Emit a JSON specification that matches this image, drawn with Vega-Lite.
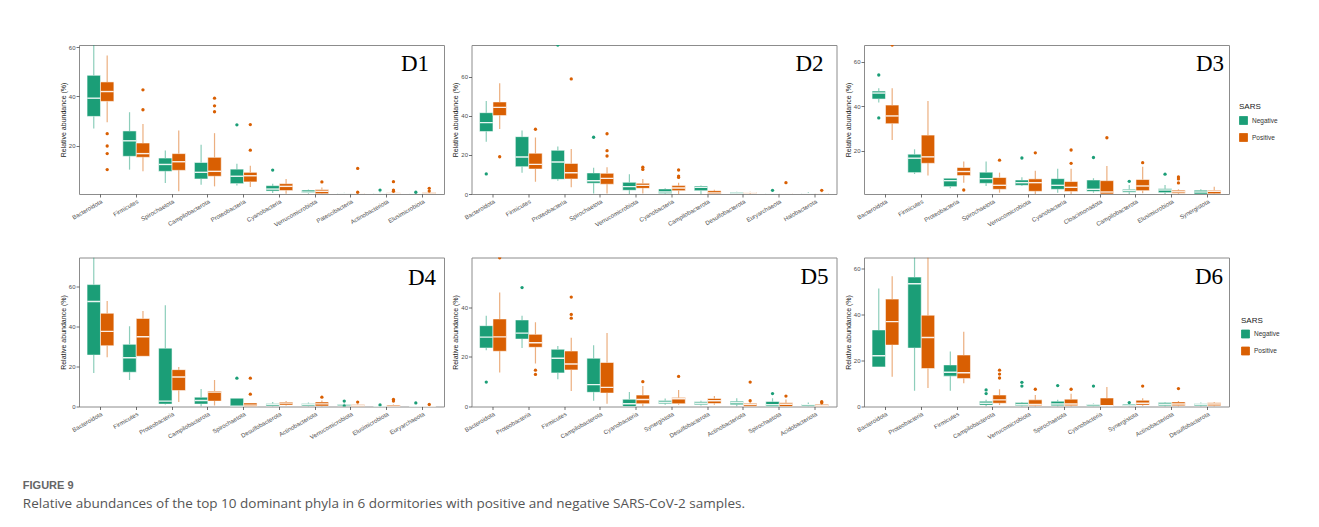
{
  "$schema": "https://vega.github.io/schema/vega-lite/v6.json",
  "background": "white",
  "padding": {"left": 22, "top": 43, "right": 10, "bottom": 10},
  "title": {
    "text": "FIGURE 9",
    "subtitle": "Relative abundances of the top 10 dominant phyla in 6 dormitories with positive and negative SARS-CoV-2 samples.",
    "orient": "bottom", "anchor": "start", "frame": "bounds", "offset": 40, "dx": -36, "baseline": "top",
    "font": "Liberation Sans Narrow, Liberation Sans", "fontSize": 11, "fontWeight": "bold", "color": "#666666",
    "subtitleFont": "Open Sans", "subtitleFontSize": 13.5, "subtitleColor": "#555555", "subtitlePadding": 6
  },
  "datasets": {
    "boxes": [
      {"panel":"D1","phylum":"Bacteroidota","SARS":"Negative","lower":27,"q1":31.9,"median":39.3,"q3":48.6,"upper":60.9},
      {"panel":"D1","phylum":"Bacteroidota","SARS":"Positive","lower":29.5,"q1":38,"median":42,"q3":45.9,"upper":56.6},
      {"panel":"D1","phylum":"Firmicutes","SARS":"Negative","lower":10.3,"q1":15.7,"median":22,"q3":26,"upper":33.6},
      {"panel":"D1","phylum":"Firmicutes","SARS":"Positive","lower":9.6,"q1":15.3,"median":16.8,"q3":21.1,"upper":28.8},
      {"panel":"D1","phylum":"Spirochaetota","SARS":"Negative","lower":4.9,"q1":9.6,"median":12.4,"q3":15,"upper":18.1},
      {"panel":"D1","phylum":"Spirochaetota","SARS":"Positive","lower":1.5,"q1":10,"median":13.5,"q3":16.8,"upper":26.2},
      {"panel":"D1","phylum":"Campilobacterota","SARS":"Negative","lower":4.2,"q1":6.5,"median":9.2,"q3":13.2,"upper":20.4},
      {"panel":"D1","phylum":"Campilobacterota","SARS":"Positive","lower":3.5,"q1":7.6,"median":9.6,"q3":15.3,"upper":25.1},
      {"panel":"D1","phylum":"Proteobacteria","SARS":"Negative","lower":3.9,"q1":4.6,"median":7.6,"q3":10.5,"upper":12.7},
      {"panel":"D1","phylum":"Proteobacteria","SARS":"Positive","lower":3.2,"q1":5.3,"median":7.8,"q3":9.2,"upper":11.9},
      {"panel":"D1","phylum":"Cyanobacteria","SARS":"Negative","lower":0.8,"q1":1.6,"median":2.4,"q3":3.8,"upper":4.6},
      {"panel":"D1","phylum":"Cyanobacteria","SARS":"Positive","lower":0.5,"q1":1.8,"median":3.5,"q3":4.6,"upper":6.5},
      {"panel":"D1","phylum":"Verrucomicrobiota","SARS":"Negative","lower":0.5,"q1":0.8,"median":1.2,"q3":2,"upper":2.2},
      {"panel":"D1","phylum":"Verrucomicrobiota","SARS":"Positive","lower":0.4,"q1":0.5,"median":1.5,"q3":2.2,"upper":3},
      {"panel":"D1","phylum":"Patescibacteria","SARS":"Negative","lower":0.4,"q1":0.5,"median":0.6,"q3":0.8,"upper":0.9},
      {"panel":"D1","phylum":"Patescibacteria","SARS":"Positive","lower":0.4,"q1":0.5,"median":0.6,"q3":0.8,"upper":1},
      {"panel":"D1","phylum":"Actinobacteriota","SARS":"Negative","lower":0.4,"q1":0.5,"median":0.6,"q3":0.8,"upper":1},
      {"panel":"D1","phylum":"Actinobacteriota","SARS":"Positive","lower":0.4,"q1":0.5,"median":0.7,"q3":0.9,"upper":1.1},
      {"panel":"D1","phylum":"Elusimicrobiota","SARS":"Negative","lower":0.4,"q1":0.45,"median":0.5,"q3":0.6,"upper":0.7},
      {"panel":"D1","phylum":"Elusimicrobiota","SARS":"Positive","lower":0.4,"q1":0.5,"median":0.8,"q3":1.1,"upper":1.4},

      {"panel":"D2","phylum":"Bacteroidota","SARS":"Negative","lower":26.8,"q1":32,"median":36.6,"q3":41.7,"upper":47.7},
      {"panel":"D2","phylum":"Bacteroidota","SARS":"Positive","lower":33.3,"q1":40.2,"median":44.4,"q3":47.2,"upper":56.8},
      {"panel":"D2","phylum":"Firmicutes","SARS":"Negative","lower":10.9,"q1":14,"median":19,"q3":29.4,"upper":32.5},
      {"panel":"D2","phylum":"Firmicutes","SARS":"Positive","lower":6.3,"q1":12.8,"median":15.2,"q3":20.9,"upper":29},
      {"panel":"D2","phylum":"Proteobacteria","SARS":"Negative","lower":6.8,"q1":7.5,"median":16.4,"q3":22.4,"upper":24.3},
      {"panel":"D2","phylum":"Proteobacteria","SARS":"Positive","lower":3.4,"q1":7.7,"median":10.9,"q3":15.7,"upper":23.1},
      {"panel":"D2","phylum":"Spirochaetota","SARS":"Negative","lower":0.3,"q1":5.5,"median":6.8,"q3":10.8,"upper":13.5},
      {"panel":"D2","phylum":"Spirochaetota","SARS":"Positive","lower":0.3,"q1":5,"median":8,"q3":10.6,"upper":13.7},
      {"panel":"D2","phylum":"Verrucomicrobiota","SARS":"Negative","lower":0,"q1":1.9,"median":3.8,"q3":6,"upper":10.1},
      {"panel":"D2","phylum":"Verrucomicrobiota","SARS":"Positive","lower":0.3,"q1":2.9,"median":4.4,"q3":5.5,"upper":7.7},
      {"panel":"D2","phylum":"Cyanobacteria","SARS":"Negative","lower":0,"q1":0.2,"median":1,"q3":2.6,"upper":2.9},
      {"panel":"D2","phylum":"Cyanobacteria","SARS":"Positive","lower":0,"q1":1.7,"median":3.1,"q3":4.3,"upper":5.8},
      {"panel":"D2","phylum":"Campilobacterota","SARS":"Negative","lower":0,"q1":1.7,"median":3.4,"q3":4.1,"upper":4.4},
      {"panel":"D2","phylum":"Campilobacterota","SARS":"Positive","lower":0,"q1":0.05,"median":0.6,"q3":1.7,"upper":2.2},
      {"panel":"D2","phylum":"Desulfobacterota","SARS":"Negative","lower":0,"q1":0.1,"median":0.5,"q3":1,"upper":1.1},
      {"panel":"D2","phylum":"Desulfobacterota","SARS":"Positive","lower":0,"q1":0.4,"median":0.7,"q3":1,"upper":1.2},
      {"panel":"D2","phylum":"Euryarchaeota","SARS":"Negative","lower":0,"q1":0.05,"median":0.1,"q3":0.2,"upper":0.3},
      {"panel":"D2","phylum":"Euryarchaeota","SARS":"Positive","lower":0,"q1":0.05,"median":0.1,"q3":0.3,"upper":0.4},
      {"panel":"D2","phylum":"Halobacterota","SARS":"Negative","lower":0,"q1":0.1,"median":0.2,"q3":0.4,"upper":0.9},
      {"panel":"D2","phylum":"Halobacterota","SARS":"Positive","lower":0,"q1":0.05,"median":0.2,"q3":0.4,"upper":0.6},

      {"panel":"D3","phylum":"Bacteroidota","SARS":"Negative","lower":41.6,"q1":43.2,"median":45.9,"q3":46.8,"upper":48},
      {"panel":"D3","phylum":"Bacteroidota","SARS":"Positive","lower":24.8,"q1":32.1,"median":35.6,"q3":40.5,"upper":48},
      {"panel":"D3","phylum":"Firmicutes","SARS":"Negative","lower":9.5,"q1":10.1,"median":16.6,"q3":18.4,"upper":20.6},
      {"panel":"D3","phylum":"Firmicutes","SARS":"Positive","lower":8.8,"q1":14.3,"median":17.2,"q3":27,"upper":42.3},
      {"panel":"D3","phylum":"Proteobacteria","SARS":"Negative","lower":3.1,"q1":3.8,"median":6.5,"q3":7.6,"upper":7.6},
      {"panel":"D3","phylum":"Proteobacteria","SARS":"Positive","lower":5.6,"q1":8.8,"median":10.6,"q3":12.4,"upper":15.1},
      {"panel":"D3","phylum":"Spirochaetota","SARS":"Negative","lower":4.1,"q1":5.3,"median":7.4,"q3":10.3,"upper":15.1},
      {"panel":"D3","phylum":"Spirochaetota","SARS":"Positive","lower":1.1,"q1":2.6,"median":4.4,"q3":7.9,"upper":10.1},
      {"panel":"D3","phylum":"Verrucomicrobiota","SARS":"Negative","lower":4.1,"q1":4.4,"median":5.6,"q3":6.8,"upper":8},
      {"panel":"D3","phylum":"Verrucomicrobiota","SARS":"Positive","lower":0.4,"q1":1.7,"median":5.6,"q3":7.3,"upper":11},
      {"panel":"D3","phylum":"Cyanobacteria","SARS":"Negative","lower":1.1,"q1":2.6,"median":4.4,"q3":7.4,"upper":11.8},
      {"panel":"D3","phylum":"Cyanobacteria","SARS":"Positive","lower":0.4,"q1":1.6,"median":3.5,"q3":6.1,"upper":11.9},
      {"panel":"D3","phylum":"Cloacimonadota","SARS":"Negative","lower":1.1,"q1":1.7,"median":2.6,"q3":6.8,"upper":7.6},
      {"panel":"D3","phylum":"Cloacimonadota","SARS":"Positive","lower":0.4,"q1":0.5,"median":1.4,"q3":6.5,"upper":13.1},
      {"panel":"D3","phylum":"Campilobacterota","SARS":"Negative","lower":0.5,"q1":1.3,"median":2,"q3":2.6,"upper":4.6},
      {"panel":"D3","phylum":"Campilobacterota","SARS":"Positive","lower":0.8,"q1":2,"median":4.1,"q3":7,"upper":12.8},
      {"panel":"D3","phylum":"Elusimicrobiota","SARS":"Negative","lower":0.5,"q1":1.1,"median":2.3,"q3":2.9,"upper":4.6},
      {"panel":"D3","phylum":"Elusimicrobiota","SARS":"Positive","lower":0.4,"q1":0.8,"median":1.5,"q3":2.2,"upper":2.6},
      {"panel":"D3","phylum":"Synergistota","SARS":"Negative","lower":0.4,"q1":0.5,"median":1.4,"q3":2.2,"upper":2.6},
      {"panel":"D3","phylum":"Synergistota","SARS":"Positive","lower":0.4,"q1":0.6,"median":1.7,"q3":2.2,"upper":3.8},

      {"panel":"D4","phylum":"Bacteroidota","SARS":"Negative","lower":16.8,"q1":25.8,"median":52.7,"q3":61.2,"upper":74.8},
      {"panel":"D4","phylum":"Bacteroidota","SARS":"Positive","lower":24.7,"q1":30.5,"median":37.7,"q3":46.8,"upper":53},
      {"panel":"D4","phylum":"Firmicutes","SARS":"Negative","lower":13.3,"q1":17.2,"median":24.5,"q3":31.2,"upper":40.3},
      {"panel":"D4","phylum":"Firmicutes","SARS":"Positive","lower":25.2,"q1":25.2,"median":35,"q3":44.2,"upper":48},
      {"panel":"D4","phylum":"Proteobacteria","SARS":"Negative","lower":1,"q1":1.2,"median":2.7,"q3":29.3,"upper":50.8},
      {"panel":"D4","phylum":"Proteobacteria","SARS":"Positive","lower":2.2,"q1":8,"median":14.8,"q3":18.5,"upper":19.8},
      {"panel":"D4","phylum":"Campilobacterota","SARS":"Negative","lower":0,"q1":1.2,"median":3,"q3":4.7,"upper":8.8},
      {"panel":"D4","phylum":"Campilobacterota","SARS":"Positive","lower":0.5,"q1":2.7,"median":7.2,"q3":7.8,"upper":13.3},
      {"panel":"D4","phylum":"Spirochaetota","SARS":"Negative","lower":0,"q1":0,"median":0.2,"q3":4.2,"upper":4.2},
      {"panel":"D4","phylum":"Spirochaetota","SARS":"Positive","lower":0,"q1":0,"median":0.7,"q3":1.8,"upper":1.8},
      {"panel":"D4","phylum":"Desulfobacterota","SARS":"Negative","lower":0,"q1":0.2,"median":1,"q3":1.5,"upper":2.2},
      {"panel":"D4","phylum":"Desulfobacterota","SARS":"Positive","lower":0.5,"q1":0.7,"median":1.7,"q3":2.3,"upper":2.8},
      {"panel":"D4","phylum":"Actinobacteriota","SARS":"Negative","lower":0,"q1":0.3,"median":1,"q3":1.5,"upper":2},
      {"panel":"D4","phylum":"Actinobacteriota","SARS":"Positive","lower":0,"q1":0.2,"median":1.3,"q3":2.3,"upper":3},
      {"panel":"D4","phylum":"Verrucomicrobiota","SARS":"Negative","lower":0,"q1":0.3,"median":0.8,"q3":1.2,"upper":1.5},
      {"panel":"D4","phylum":"Verrucomicrobiota","SARS":"Positive","lower":0,"q1":0,"median":0.5,"q3":1,"upper":1.3},
      {"panel":"D4","phylum":"Elusimicrobiota","SARS":"Negative","lower":0,"q1":0.05,"median":0.1,"q3":0.2,"upper":0.3},
      {"panel":"D4","phylum":"Elusimicrobiota","SARS":"Positive","lower":0,"q1":0,"median":0.2,"q3":0.8,"upper":1},
      {"panel":"D4","phylum":"Euryarchaeota","SARS":"Negative","lower":0,"q1":0.02,"median":0.05,"q3":0.1,"upper":0.2},
      {"panel":"D4","phylum":"Euryarchaeota","SARS":"Positive","lower":0,"q1":0.02,"median":0.05,"q3":0.15,"upper":0.3},

      {"panel":"D5","phylum":"Bacteroidota","SARS":"Negative","lower":22.6,"q1":23.5,"median":27.9,"q3":32.5,"upper":36.5},
      {"panel":"D5","phylum":"Bacteroidota","SARS":"Positive","lower":13.7,"q1":22.2,"median":28,"q3":35.2,"upper":45.8},
      {"panel":"D5","phylum":"Proteobacteria","SARS":"Negative","lower":23.5,"q1":27.1,"median":29.5,"q3":34.8,"upper":36.5},
      {"panel":"D5","phylum":"Proteobacteria","SARS":"Positive","lower":17.3,"q1":23.8,"median":25.6,"q3":29,"upper":33.9},
      {"panel":"D5","phylum":"Firmicutes","SARS":"Negative","lower":11,"q1":13.5,"median":19.4,"q3":23,"upper":24.3},
      {"panel":"D5","phylum":"Firmicutes","SARS":"Positive","lower":6.2,"q1":14.7,"median":17.1,"q3":22.3,"upper":27.6},
      {"panel":"D5","phylum":"Campilobacterota","SARS":"Negative","lower":2.3,"q1":5.7,"median":8.8,"q3":19.4,"upper":24.6},
      {"panel":"D5","phylum":"Campilobacterota","SARS":"Positive","lower":1.1,"q1":5.4,"median":7.7,"q3":17.7,"upper":29.5},
      {"panel":"D5","phylum":"Cyanobacteria","SARS":"Negative","lower":0,"q1":0,"median":1.1,"q3":2.9,"upper":5.8},
      {"panel":"D5","phylum":"Cyanobacteria","SARS":"Positive","lower":0,"q1":1.1,"median":2.8,"q3":4.6,"upper":8.2},
      {"panel":"D5","phylum":"Synergistota","SARS":"Negative","lower":0.7,"q1":1.1,"median":1.7,"q3":2.4,"upper":3.2},
      {"panel":"D5","phylum":"Synergistota","SARS":"Positive","lower":0.7,"q1":1.1,"median":3.1,"q3":3.6,"upper":6.6},
      {"panel":"D5","phylum":"Desulfobacterota","SARS":"Negative","lower":0.4,"q1":0.7,"median":1.3,"q3":1.9,"upper":2.3},
      {"panel":"D5","phylum":"Desulfobacterota","SARS":"Positive","lower":0.7,"q1":1.2,"median":2.3,"q3":3.2,"upper":4.2},
      {"panel":"D5","phylum":"Actinobacteriota","SARS":"Negative","lower":0,"q1":0.7,"median":1.5,"q3":2.1,"upper":3.3},
      {"panel":"D5","phylum":"Actinobacteriota","SARS":"Positive","lower":0,"q1":0,"median":0.8,"q3":1.3,"upper":1.6},
      {"panel":"D5","phylum":"Spirochaetota","SARS":"Negative","lower":0,"q1":0,"median":0.7,"q3":2,"upper":3.3},
      {"panel":"D5","phylum":"Spirochaetota","SARS":"Positive","lower":0,"q1":0,"median":0.9,"q3":1.5,"upper":2.8},
      {"panel":"D5","phylum":"Acidobacteriota","SARS":"Negative","lower":0,"q1":0.1,"median":0.7,"q3":0.9,"upper":1.6},
      {"panel":"D5","phylum":"Acidobacteriota","SARS":"Positive","lower":0,"q1":0,"median":0.4,"q3":0.9,"upper":1.2},

      {"panel":"D6","phylum":"Bacteroidota","SARS":"Negative","lower":17.2,"q1":17.2,"median":22.1,"q3":33.3,"upper":51.3},
      {"panel":"D6","phylum":"Bacteroidota","SARS":"Positive","lower":12.9,"q1":26.7,"median":36.9,"q3":46.7,"upper":56.6},
      {"panel":"D6","phylum":"Proteobacteria","SARS":"Negative","lower":6.8,"q1":25.4,"median":53.4,"q3":56.3,"upper":64.8},
      {"panel":"D6","phylum":"Proteobacteria","SARS":"Positive","lower":8,"q1":16.5,"median":30,"q3":39.7,"upper":64.8},
      {"panel":"D6","phylum":"Firmicutes","SARS":"Negative","lower":6.9,"q1":13.2,"median":14.9,"q3":18.1,"upper":23.9},
      {"panel":"D6","phylum":"Firmicutes","SARS":"Positive","lower":10.1,"q1":12.2,"median":14.7,"q3":22.4,"upper":32.5},
      {"panel":"D6","phylum":"Campilobacterota","SARS":"Negative","lower":0,"q1":0.6,"median":1.4,"q3":2.3,"upper":2.9},
      {"panel":"D6","phylum":"Campilobacterota","SARS":"Positive","lower":0.6,"q1":1.4,"median":2.9,"q3":5,"upper":7.5},
      {"panel":"D6","phylum":"Verrucomicrobiota","SARS":"Negative","lower":0,"q1":0.3,"median":0.9,"q3":1.7,"upper":2},
      {"panel":"D6","phylum":"Verrucomicrobiota","SARS":"Positive","lower":0,"q1":0.3,"median":0.9,"q3":2.9,"upper":5},
      {"panel":"D6","phylum":"Spirochaetota","SARS":"Negative","lower":0,"q1":0.3,"median":1.1,"q3":2.3,"upper":2.9},
      {"panel":"D6","phylum":"Spirochaetota","SARS":"Positive","lower":0,"q1":0.3,"median":1.1,"q3":3.2,"upper":5.5},
      {"panel":"D6","phylum":"Cyanobacteria","SARS":"Negative","lower":0,"q1":0.1,"median":0.7,"q3":1,"upper":1.3},
      {"panel":"D6","phylum":"Cyanobacteria","SARS":"Positive","lower":0,"q1":0.3,"median":0.3,"q3":3.7,"upper":8.5},
      {"panel":"D6","phylum":"Synergistota","SARS":"Negative","lower":0,"q1":0.3,"median":0.6,"q3":1.1,"upper":1.4},
      {"panel":"D6","phylum":"Synergistota","SARS":"Positive","lower":0.3,"q1":0.6,"median":1.4,"q3":2.7,"upper":3.6},
      {"panel":"D6","phylum":"Actinobacteriota","SARS":"Negative","lower":0,"q1":0.3,"median":1,"q3":1.7,"upper":2},
      {"panel":"D6","phylum":"Actinobacteriota","SARS":"Positive","lower":0,"q1":0.3,"median":1.1,"q3":2,"upper":2.4},
      {"panel":"D6","phylum":"Desulfobacterota","SARS":"Negative","lower":0,"q1":0.3,"median":1,"q3":1.3,"upper":1.7},
      {"panel":"D6","phylum":"Desulfobacterota","SARS":"Positive","lower":0,"q1":0.3,"median":1.1,"q3":1.6,"upper":2}
    ],
    "outliers": [
      {"panel":"D1","phylum":"Bacteroidota","SARS":"Positive","value":24.9},
      {"panel":"D1","phylum":"Bacteroidota","SARS":"Positive","value":19.9},
      {"panel":"D1","phylum":"Bacteroidota","SARS":"Positive","value":16.8},
      {"panel":"D1","phylum":"Bacteroidota","SARS":"Positive","value":10.3},
      {"panel":"D1","phylum":"Firmicutes","SARS":"Positive","value":42.7},
      {"panel":"D1","phylum":"Firmicutes","SARS":"Positive","value":34.6},
      {"panel":"D1","phylum":"Campilobacterota","SARS":"Positive","value":39.3},
      {"panel":"D1","phylum":"Campilobacterota","SARS":"Positive","value":36.2},
      {"panel":"D1","phylum":"Campilobacterota","SARS":"Positive","value":33.8},
      {"panel":"D1","phylum":"Proteobacteria","SARS":"Negative","value":28.5},
      {"panel":"D1","phylum":"Proteobacteria","SARS":"Positive","value":28.6},
      {"panel":"D1","phylum":"Proteobacteria","SARS":"Positive","value":18.2},
      {"panel":"D1","phylum":"Cyanobacteria","SARS":"Negative","value":10.1},
      {"panel":"D1","phylum":"Verrucomicrobiota","SARS":"Positive","value":5.3},
      {"panel":"D1","phylum":"Patescibacteria","SARS":"Positive","value":10.8},
      {"panel":"D1","phylum":"Patescibacteria","SARS":"Positive","value":1.1},
      {"panel":"D1","phylum":"Actinobacteriota","SARS":"Negative","value":2},
      {"panel":"D1","phylum":"Actinobacteriota","SARS":"Positive","value":5.4},
      {"panel":"D1","phylum":"Actinobacteriota","SARS":"Positive","value":2},
      {"panel":"D1","phylum":"Actinobacteriota","SARS":"Positive","value":1.5},
      {"panel":"D1","phylum":"Elusimicrobiota","SARS":"Negative","value":1.1},
      {"panel":"D1","phylum":"Elusimicrobiota","SARS":"Positive","value":2.7},
      {"panel":"D1","phylum":"Elusimicrobiota","SARS":"Positive","value":1.6},

      {"panel":"D2","phylum":"Bacteroidota","SARS":"Negative","value":10.3},
      {"panel":"D2","phylum":"Bacteroidota","SARS":"Positive","value":19.1},
      {"panel":"D2","phylum":"Firmicutes","SARS":"Positive","value":33.2},
      {"panel":"D2","phylum":"Proteobacteria","SARS":"Negative","value":76.4},
      {"panel":"D2","phylum":"Proteobacteria","SARS":"Positive","value":59},
      {"panel":"D2","phylum":"Spirochaetota","SARS":"Negative","value":29.1},
      {"panel":"D2","phylum":"Spirochaetota","SARS":"Positive","value":30.9},
      {"panel":"D2","phylum":"Spirochaetota","SARS":"Positive","value":22.2},
      {"panel":"D2","phylum":"Spirochaetota","SARS":"Positive","value":19.5},
      {"panel":"D2","phylum":"Verrucomicrobiota","SARS":"Positive","value":13.7},
      {"panel":"D2","phylum":"Verrucomicrobiota","SARS":"Positive","value":12.6},
      {"panel":"D2","phylum":"Cyanobacteria","SARS":"Positive","value":12.3},
      {"panel":"D2","phylum":"Cyanobacteria","SARS":"Positive","value":9.2},
      {"panel":"D2","phylum":"Cyanobacteria","SARS":"Positive","value":8.5},
      {"panel":"D2","phylum":"Euryarchaeota","SARS":"Negative","value":1.9},
      {"panel":"D2","phylum":"Euryarchaeota","SARS":"Positive","value":5.8},
      {"panel":"D2","phylum":"Halobacterota","SARS":"Positive","value":1.9},

      {"panel":"D3","phylum":"Bacteroidota","SARS":"Negative","value":54},
      {"panel":"D3","phylum":"Bacteroidota","SARS":"Negative","value":34.7},
      {"panel":"D3","phylum":"Bacteroidota","SARS":"Positive","value":67.5},
      {"panel":"D3","phylum":"Proteobacteria","SARS":"Positive","value":2.3},
      {"panel":"D3","phylum":"Spirochaetota","SARS":"Positive","value":15.7},
      {"panel":"D3","phylum":"Verrucomicrobiota","SARS":"Negative","value":16.7},
      {"panel":"D3","phylum":"Verrucomicrobiota","SARS":"Positive","value":19},
      {"panel":"D3","phylum":"Cyanobacteria","SARS":"Positive","value":20.3},
      {"panel":"D3","phylum":"Cyanobacteria","SARS":"Positive","value":14.3},
      {"panel":"D3","phylum":"Cloacimonadota","SARS":"Negative","value":16.9},
      {"panel":"D3","phylum":"Cloacimonadota","SARS":"Positive","value":25.8},
      {"panel":"D3","phylum":"Campilobacterota","SARS":"Negative","value":6.2},
      {"panel":"D3","phylum":"Campilobacterota","SARS":"Positive","value":14.6},
      {"panel":"D3","phylum":"Elusimicrobiota","SARS":"Negative","value":9.4},
      {"panel":"D3","phylum":"Elusimicrobiota","SARS":"Positive","value":8.2},
      {"panel":"D3","phylum":"Elusimicrobiota","SARS":"Positive","value":7.3},
      {"panel":"D3","phylum":"Elusimicrobiota","SARS":"Positive","value":5.5},

      {"panel":"D4","phylum":"Spirochaetota","SARS":"Negative","value":14.2},
      {"panel":"D4","phylum":"Spirochaetota","SARS":"Positive","value":14.2},
      {"panel":"D4","phylum":"Spirochaetota","SARS":"Positive","value":6.2},
      {"panel":"D4","phylum":"Actinobacteriota","SARS":"Positive","value":4.7},
      {"panel":"D4","phylum":"Verrucomicrobiota","SARS":"Negative","value":2.7},
      {"panel":"D4","phylum":"Verrucomicrobiota","SARS":"Negative","value":0.3},
      {"panel":"D4","phylum":"Verrucomicrobiota","SARS":"Positive","value":2.2},
      {"panel":"D4","phylum":"Elusimicrobiota","SARS":"Negative","value":0.8},
      {"panel":"D4","phylum":"Elusimicrobiota","SARS":"Positive","value":3.5},
      {"panel":"D4","phylum":"Elusimicrobiota","SARS":"Positive","value":2.7},
      {"panel":"D4","phylum":"Euryarchaeota","SARS":"Negative","value":1.8},
      {"panel":"D4","phylum":"Euryarchaeota","SARS":"Positive","value":1},

      {"panel":"D5","phylum":"Bacteroidota","SARS":"Negative","value":9.8},
      {"panel":"D5","phylum":"Bacteroidota","SARS":"Positive","value":59.8},
      {"panel":"D5","phylum":"Proteobacteria","SARS":"Negative","value":47.8},
      {"panel":"D5","phylum":"Proteobacteria","SARS":"Positive","value":14.6},
      {"panel":"D5","phylum":"Proteobacteria","SARS":"Positive","value":12.9},
      {"panel":"D5","phylum":"Firmicutes","SARS":"Positive","value":44},
      {"panel":"D5","phylum":"Firmicutes","SARS":"Positive","value":37},
      {"panel":"D5","phylum":"Firmicutes","SARS":"Positive","value":35.5},
      {"panel":"D5","phylum":"Cyanobacteria","SARS":"Positive","value":10},
      {"panel":"D5","phylum":"Synergistota","SARS":"Positive","value":12.1},
      {"panel":"D5","phylum":"Actinobacteriota","SARS":"Positive","value":9.8},
      {"panel":"D5","phylum":"Actinobacteriota","SARS":"Positive","value":2.3},
      {"panel":"D5","phylum":"Spirochaetota","SARS":"Negative","value":5.2},
      {"panel":"D5","phylum":"Spirochaetota","SARS":"Positive","value":4.2},
      {"panel":"D5","phylum":"Acidobacteriota","SARS":"Positive","value":1.9},
      {"panel":"D5","phylum":"Acidobacteriota","SARS":"Positive","value":1.5},

      {"panel":"D6","phylum":"Campilobacterota","SARS":"Negative","value":7.2},
      {"panel":"D6","phylum":"Campilobacterota","SARS":"Negative","value":5.6},
      {"panel":"D6","phylum":"Campilobacterota","SARS":"Positive","value":15.8},
      {"panel":"D6","phylum":"Campilobacterota","SARS":"Positive","value":14.1},
      {"panel":"D6","phylum":"Campilobacterota","SARS":"Positive","value":12.4},
      {"panel":"D6","phylum":"Verrucomicrobiota","SARS":"Negative","value":10.5},
      {"panel":"D6","phylum":"Verrucomicrobiota","SARS":"Negative","value":8.9},
      {"panel":"D6","phylum":"Verrucomicrobiota","SARS":"Positive","value":7.5},
      {"panel":"D6","phylum":"Spirochaetota","SARS":"Negative","value":9.1},
      {"panel":"D6","phylum":"Spirochaetota","SARS":"Positive","value":7.5},
      {"panel":"D6","phylum":"Cyanobacteria","SARS":"Negative","value":8.9},
      {"panel":"D6","phylum":"Synergistota","SARS":"Negative","value":1.7},
      {"panel":"D6","phylum":"Synergistota","SARS":"Positive","value":8.9},
      {"panel":"D6","phylum":"Actinobacteriota","SARS":"Positive","value":7.8}
    ]
  },
  "vconcat": [
    {
      "hconcat": [
        {
          "width": 365, "height": 149,
          "encoding": {
            "x": {"field": "phylum", "type": "nominal", "title": null, "scale": {"domain": ["Bacteroidota","Firmicutes","Spirochaetota","Campilobacterota","Proteobacteria","Cyanobacteria","Verrucomicrobiota","Patescibacteria","Actinobacteriota","Elusimicrobiota"], "paddingInner": 0.25, "paddingOuter": 0.225}},
            "color": {"field": "SARS", "type": "nominal", "scale": {"domain": ["Negative","Positive"], "range": ["#1B9E77","#D95F02"]}, "legend": null}
          },
          "layer": [
            {"data": {"name": "boxes"}, "transform": [{"filter": "datum.panel === 'D1'"}], "mark": {"type": "bar", "stroke": "white", "strokeOpacity": 0.55, "strokeWidth": 1, "clip": true},
             "encoding": {"xOffset": {"field": "SARS", "type": "nominal", "scale": {"domain": ["Negative","Positive"], "paddingInner": 0, "paddingOuter": 0}}, "y": {"field": "q1", "type": "quantitative", "title": "Relative abundance (%)", "scale": {"domain": [0.4, 60.9], "nice": false, "zero": false}, "axis": {"values": [20, 40, 60]}}, "y2": {"field": "q3"}}},
            {"data": {"name": "boxes"}, "transform": [{"filter": "datum.panel === 'D1'"}], "mark": {"type": "rule", "opacity": 0.5, "strokeWidth": 1.2, "clip": true},
             "encoding": {"xOffset": {"field": "SARS", "type": "nominal"}, "y": {"field": "lower", "type": "quantitative"}, "y2": {"field": "q1"}}},
            {"data": {"name": "boxes"}, "transform": [{"filter": "datum.panel === 'D1'"}], "mark": {"type": "rule", "opacity": 0.5, "strokeWidth": 1.2, "clip": true},
             "encoding": {"xOffset": {"field": "SARS", "type": "nominal"}, "y": {"field": "q3", "type": "quantitative"}, "y2": {"field": "upper"}}},
            {"data": {"name": "boxes"}, "transform": [{"filter": "datum.panel === 'D1'"}], "mark": {"type": "tick", "thickness": 1.4, "size": 13, "opacity": 0.9, "clip": true},
             "encoding": {"xOffset": {"field": "SARS", "type": "nominal"}, "y": {"field": "median", "type": "quantitative"}, "color": {"value": "white"}}},
            {"data": {"name": "outliers"}, "transform": [{"filter": "datum.panel === 'D1'"}], "mark": {"type": "point", "filled": true, "size": 11, "opacity": 1, "clip": true},
             "encoding": {"xOffset": {"field": "SARS", "type": "nominal"}, "y": {"field": "value", "type": "quantitative"}}},
            {"data": {"values": [{"label": "D1"}]}, "mark": {"type": "text", "font": "Liberation Serif", "fontSize": 23, "align": "right", "baseline": "alphabetic", "dx": 6.5},
             "encoding": {"x": {"datum": "Elusimicrobiota"}, "y": {"datum": 50.3}, "text": {"field": "label"}, "color": {"value": "#000000"}}}
          ]
        },
        {
          "width": 365, "height": 149,
          "encoding": {
            "x": {"field": "phylum", "type": "nominal", "title": null, "scale": {"domain": ["Bacteroidota","Firmicutes","Proteobacteria","Spirochaetota","Verrucomicrobiota","Cyanobacteria","Campilobacterota","Desulfobacterota","Euryarchaeota","Halobacterota"], "paddingInner": 0.25, "paddingOuter": 0.225}},
            "color": {"field": "SARS", "type": "nominal", "scale": {"domain": ["Negative","Positive"], "range": ["#1B9E77","#D95F02"]}, "legend": null}
          },
          "layer": [
            {"data": {"name": "boxes"}, "transform": [{"filter": "datum.panel === 'D2'"}], "mark": {"type": "bar", "stroke": "white", "strokeOpacity": 0.55, "strokeWidth": 1, "clip": true},
             "encoding": {"xOffset": {"field": "SARS", "type": "nominal", "scale": {"domain": ["Negative","Positive"], "paddingInner": 0, "paddingOuter": 0}}, "y": {"field": "q1", "type": "quantitative", "title": "Relative abundance (%)", "scale": {"domain": [0, 76.4], "nice": false, "zero": false}, "axis": {"values": [0, 20, 40, 60]}}, "y2": {"field": "q3"}}},
            {"data": {"name": "boxes"}, "transform": [{"filter": "datum.panel === 'D2'"}], "mark": {"type": "rule", "opacity": 0.5, "strokeWidth": 1.2, "clip": true},
             "encoding": {"xOffset": {"field": "SARS", "type": "nominal"}, "y": {"field": "lower", "type": "quantitative"}, "y2": {"field": "q1"}}},
            {"data": {"name": "boxes"}, "transform": [{"filter": "datum.panel === 'D2'"}], "mark": {"type": "rule", "opacity": 0.5, "strokeWidth": 1.2, "clip": true},
             "encoding": {"xOffset": {"field": "SARS", "type": "nominal"}, "y": {"field": "q3", "type": "quantitative"}, "y2": {"field": "upper"}}},
            {"data": {"name": "boxes"}, "transform": [{"filter": "datum.panel === 'D2'"}], "mark": {"type": "tick", "thickness": 1.4, "size": 13, "opacity": 0.9, "clip": true},
             "encoding": {"xOffset": {"field": "SARS", "type": "nominal"}, "y": {"field": "median", "type": "quantitative"}, "color": {"value": "white"}}},
            {"data": {"name": "outliers"}, "transform": [{"filter": "datum.panel === 'D2'"}], "mark": {"type": "point", "filled": true, "size": 11, "opacity": 1, "clip": true},
             "encoding": {"xOffset": {"field": "SARS", "type": "nominal"}, "y": {"field": "value", "type": "quantitative"}}},
            {"data": {"values": [{"label": "D2"}]}, "mark": {"type": "text", "font": "Liberation Serif", "fontSize": 23, "align": "right", "baseline": "alphabetic", "dx": 8.5},
             "encoding": {"x": {"datum": "Halobacterota"}, "y": {"datum": 63.1}, "text": {"field": "label"}, "color": {"value": "#000000"}}}
          ]
        },
        {
          "width": 365, "height": 149,
          "encoding": {
            "x": {"field": "phylum", "type": "nominal", "title": null, "scale": {"domain": ["Bacteroidota","Firmicutes","Proteobacteria","Spirochaetota","Verrucomicrobiota","Cyanobacteria","Cloacimonadota","Campilobacterota","Elusimicrobiota","Synergistota"], "paddingInner": 0.25, "paddingOuter": 0.225}},
            "color": {"field": "SARS", "type": "nominal", "scale": {"domain": ["Negative","Positive"], "range": ["#1B9E77","#D95F02"]}, "legend": {"orient": "none", "legendX": 375, "legendY": 58, "title": "SARS", "symbolType": "square"}}
          },
          "layer": [
            {"data": {"name": "boxes"}, "transform": [{"filter": "datum.panel === 'D3'"}], "mark": {"type": "bar", "stroke": "white", "strokeOpacity": 0.55, "strokeWidth": 1, "clip": true},
             "encoding": {"xOffset": {"field": "SARS", "type": "nominal", "scale": {"domain": ["Negative","Positive"], "paddingInner": 0, "paddingOuter": 0}}, "y": {"field": "q1", "type": "quantitative", "title": "Relative abundance (%)", "scale": {"domain": [0.5, 67.5], "nice": false, "zero": false}, "axis": {"values": [20, 40, 60]}}, "y2": {"field": "q3"}}},
            {"data": {"name": "boxes"}, "transform": [{"filter": "datum.panel === 'D3'"}], "mark": {"type": "rule", "opacity": 0.5, "strokeWidth": 1.2, "clip": true},
             "encoding": {"xOffset": {"field": "SARS", "type": "nominal"}, "y": {"field": "lower", "type": "quantitative"}, "y2": {"field": "q1"}}},
            {"data": {"name": "boxes"}, "transform": [{"filter": "datum.panel === 'D3'"}], "mark": {"type": "rule", "opacity": 0.5, "strokeWidth": 1.2, "clip": true},
             "encoding": {"xOffset": {"field": "SARS", "type": "nominal"}, "y": {"field": "q3", "type": "quantitative"}, "y2": {"field": "upper"}}},
            {"data": {"name": "boxes"}, "transform": [{"filter": "datum.panel === 'D3'"}], "mark": {"type": "tick", "thickness": 1.4, "size": 13, "opacity": 0.9, "clip": true},
             "encoding": {"xOffset": {"field": "SARS", "type": "nominal"}, "y": {"field": "median", "type": "quantitative"}, "color": {"value": "white"}}},
            {"data": {"name": "outliers"}, "transform": [{"filter": "datum.panel === 'D3'"}], "mark": {"type": "point", "filled": true, "size": 11, "opacity": 1, "clip": true},
             "encoding": {"xOffset": {"field": "SARS", "type": "nominal"}, "y": {"field": "value", "type": "quantitative"}}},
            {"data": {"values": [{"label": "D3"}]}, "mark": {"type": "text", "font": "Liberation Serif", "fontSize": 23, "align": "right", "baseline": "alphabetic", "dx": 16.5},
             "encoding": {"x": {"datum": "Synergistota"}, "y": {"datum": 55.8}, "text": {"field": "label"}, "color": {"value": "#000000"}}}
          ]
        }
      ],
      "spacing": 27.5, "bounds": "flush",
      "resolve": {"scale": {"color": "independent"}, "legend": {"color": "independent"}}
    },
    {
      "hconcat": [
        {
          "width": 365, "height": 149,
          "encoding": {
            "x": {"field": "phylum", "type": "nominal", "title": null, "scale": {"domain": ["Bacteroidota","Firmicutes","Proteobacteria","Campilobacterota","Spirochaetota","Desulfobacterota","Actinobacteriota","Verrucomicrobiota","Elusimicrobiota","Euryarchaeota"], "paddingInner": 0.25, "paddingOuter": 0.225}},
            "color": {"field": "SARS", "type": "nominal", "scale": {"domain": ["Negative","Positive"], "range": ["#1B9E77","#D95F02"]}, "legend": null}
          },
          "layer": [
            {"data": {"name": "boxes"}, "transform": [{"filter": "datum.panel === 'D4'"}], "mark": {"type": "bar", "stroke": "white", "strokeOpacity": 0.55, "strokeWidth": 1, "clip": true},
             "encoding": {"xOffset": {"field": "SARS", "type": "nominal", "scale": {"domain": ["Negative","Positive"], "paddingInner": 0, "paddingOuter": 0}}, "y": {"field": "q1", "type": "quantitative", "title": "Relative abundance (%)", "scale": {"domain": [0, 74.8], "nice": false, "zero": false}, "axis": {"values": [0, 20, 40, 60]}}, "y2": {"field": "q3"}}},
            {"data": {"name": "boxes"}, "transform": [{"filter": "datum.panel === 'D4'"}], "mark": {"type": "rule", "opacity": 0.5, "strokeWidth": 1.2, "clip": true},
             "encoding": {"xOffset": {"field": "SARS", "type": "nominal"}, "y": {"field": "lower", "type": "quantitative"}, "y2": {"field": "q1"}}},
            {"data": {"name": "boxes"}, "transform": [{"filter": "datum.panel === 'D4'"}], "mark": {"type": "rule", "opacity": 0.5, "strokeWidth": 1.2, "clip": true},
             "encoding": {"xOffset": {"field": "SARS", "type": "nominal"}, "y": {"field": "q3", "type": "quantitative"}, "y2": {"field": "upper"}}},
            {"data": {"name": "boxes"}, "transform": [{"filter": "datum.panel === 'D4'"}], "mark": {"type": "tick", "thickness": 1.4, "size": 13, "opacity": 0.9, "clip": true},
             "encoding": {"xOffset": {"field": "SARS", "type": "nominal"}, "y": {"field": "median", "type": "quantitative"}, "color": {"value": "white"}}},
            {"data": {"name": "outliers"}, "transform": [{"filter": "datum.panel === 'D4'"}], "mark": {"type": "point", "filled": true, "size": 11, "opacity": 1, "clip": true},
             "encoding": {"xOffset": {"field": "SARS", "type": "nominal"}, "y": {"field": "value", "type": "quantitative"}}},
            {"data": {"values": [{"label": "D4"}]}, "mark": {"type": "text", "font": "Liberation Serif", "fontSize": 23, "align": "right", "baseline": "alphabetic", "dx": 13.5},
             "encoding": {"x": {"datum": "Euryarchaeota"}, "y": {"datum": 61.2}, "text": {"field": "label"}, "color": {"value": "#000000"}}}
          ]
        },
        {
          "width": 365, "height": 149,
          "encoding": {
            "x": {"field": "phylum", "type": "nominal", "title": null, "scale": {"domain": ["Bacteroidota","Proteobacteria","Firmicutes","Campilobacterota","Cyanobacteria","Synergistota","Desulfobacterota","Actinobacteriota","Spirochaetota","Acidobacteriota"], "paddingInner": 0.25, "paddingOuter": 0.225}},
            "color": {"field": "SARS", "type": "nominal", "scale": {"domain": ["Negative","Positive"], "range": ["#1B9E77","#D95F02"]}, "legend": null}
          },
          "layer": [
            {"data": {"name": "boxes"}, "transform": [{"filter": "datum.panel === 'D5'"}], "mark": {"type": "bar", "stroke": "white", "strokeOpacity": 0.55, "strokeWidth": 1, "clip": true},
             "encoding": {"xOffset": {"field": "SARS", "type": "nominal", "scale": {"domain": ["Negative","Positive"], "paddingInner": 0, "paddingOuter": 0}}, "y": {"field": "q1", "type": "quantitative", "title": "Relative abundance (%)", "scale": {"domain": [0, 59.9], "nice": false, "zero": false}, "axis": {"values": [0, 10, 20, 30, 40, 50]}}, "y2": {"field": "q3"}}},
            {"data": {"name": "boxes"}, "transform": [{"filter": "datum.panel === 'D5'"}], "mark": {"type": "rule", "opacity": 0.5, "strokeWidth": 1.2, "clip": true},
             "encoding": {"xOffset": {"field": "SARS", "type": "nominal"}, "y": {"field": "lower", "type": "quantitative"}, "y2": {"field": "q1"}}},
            {"data": {"name": "boxes"}, "transform": [{"filter": "datum.panel === 'D5'"}], "mark": {"type": "rule", "opacity": 0.5, "strokeWidth": 1.2, "clip": true},
             "encoding": {"xOffset": {"field": "SARS", "type": "nominal"}, "y": {"field": "q3", "type": "quantitative"}, "y2": {"field": "upper"}}},
            {"data": {"name": "boxes"}, "transform": [{"filter": "datum.panel === 'D5'"}], "mark": {"type": "tick", "thickness": 1.4, "size": 13, "opacity": 0.9, "clip": true},
             "encoding": {"xOffset": {"field": "SARS", "type": "nominal"}, "y": {"field": "median", "type": "quantitative"}, "color": {"value": "white"}}},
            {"data": {"name": "outliers"}, "transform": [{"filter": "datum.panel === 'D5'"}], "mark": {"type": "point", "filled": true, "size": 11, "opacity": 1, "clip": true},
             "encoding": {"xOffset": {"field": "SARS", "type": "nominal"}, "y": {"field": "value", "type": "quantitative"}}},
            {"data": {"values": [{"label": "D5"}]}, "mark": {"type": "text", "font": "Liberation Serif", "fontSize": 23, "align": "right", "baseline": "alphabetic", "dx": 13.5},
             "encoding": {"x": {"datum": "Acidobacteriota"}, "y": {"datum": 49.1}, "text": {"field": "label"}, "color": {"value": "#000000"}}}
          ]
        },
        {
          "width": 365, "height": 149,
          "encoding": {
            "x": {"field": "phylum", "type": "nominal", "title": null, "scale": {"domain": ["Bacteroidota","Proteobacteria","Firmicutes","Campilobacterota","Verrucomicrobiota","Spirochaetota","Cyanobacteria","Synergistota","Actinobacteriota","Desulfobacterota"], "paddingInner": 0.25, "paddingOuter": 0.225}},
            "color": {"field": "SARS", "type": "nominal", "scale": {"domain": ["Negative","Positive"], "range": ["#1B9E77","#D95F02"]}, "legend": {"orient": "none", "legendX": 377, "legendY": 59, "title": "SARS", "symbolType": "square"}}
          },
          "layer": [
            {"data": {"name": "boxes"}, "transform": [{"filter": "datum.panel === 'D6'"}], "mark": {"type": "bar", "stroke": "white", "strokeOpacity": 0.55, "strokeWidth": 1, "clip": true},
             "encoding": {"xOffset": {"field": "SARS", "type": "nominal", "scale": {"domain": ["Negative","Positive"], "paddingInner": 0, "paddingOuter": 0}}, "y": {"field": "q1", "type": "quantitative", "title": "Relative abundance (%)", "scale": {"domain": [0, 64.8], "nice": false, "zero": false}, "axis": {"values": [0, 20, 40, 60]}}, "y2": {"field": "q3"}}},
            {"data": {"name": "boxes"}, "transform": [{"filter": "datum.panel === 'D6'"}], "mark": {"type": "rule", "opacity": 0.5, "strokeWidth": 1.2, "clip": true},
             "encoding": {"xOffset": {"field": "SARS", "type": "nominal"}, "y": {"field": "lower", "type": "quantitative"}, "y2": {"field": "q1"}}},
            {"data": {"name": "boxes"}, "transform": [{"filter": "datum.panel === 'D6'"}], "mark": {"type": "rule", "opacity": 0.5, "strokeWidth": 1.2, "clip": true},
             "encoding": {"xOffset": {"field": "SARS", "type": "nominal"}, "y": {"field": "q3", "type": "quantitative"}, "y2": {"field": "upper"}}},
            {"data": {"name": "boxes"}, "transform": [{"filter": "datum.panel === 'D6'"}], "mark": {"type": "tick", "thickness": 1.4, "size": 13, "opacity": 0.9, "clip": true},
             "encoding": {"xOffset": {"field": "SARS", "type": "nominal"}, "y": {"field": "median", "type": "quantitative"}, "color": {"value": "white"}}},
            {"data": {"name": "outliers"}, "transform": [{"filter": "datum.panel === 'D6'"}], "mark": {"type": "point", "filled": true, "size": 11, "opacity": 1, "clip": true},
             "encoding": {"xOffset": {"field": "SARS", "type": "nominal"}, "y": {"field": "value", "type": "quantitative"}}},
            {"data": {"values": [{"label": "D6"}]}, "mark": {"type": "text", "font": "Liberation Serif", "fontSize": 23, "align": "right", "baseline": "alphabetic", "dx": 15.5},
             "encoding": {"x": {"datum": "Desulfobacterota"}, "y": {"datum": 53.1}, "text": {"field": "label"}, "color": {"value": "#000000"}}}
          ]
        }
      ],
      "spacing": 27.5, "bounds": "flush",
      "resolve": {"scale": {"color": "independent"}, "legend": {"color": "independent"}}
    }
  ],
  "spacing": 28.5,
  "resolve": {"scale": {"color": "independent"}, "legend": {"color": "independent"}},
  "config": {
    "font": "Liberation Sans",
    "view": {"stroke": "#8c8c8c", "strokeWidth": 1},
    "axis": {"grid": false, "domain": false, "tickColor": "#333333", "tickSize": 3, "tickWidth": 0.7, "labelColor": "#4d4d4d", "labelFontSize": 6, "labelFont": "Liberation Sans", "labelPadding": 1, "titleFont": "Liberation Sans", "titleFontSize": 7, "titleFontWeight": "normal", "titleColor": "#1a1a1a", "titlePadding": 2},
    "axisX": {"labelAngle": -30},
    "legend": {"symbolType": "square", "symbolSize": 64, "symbolStrokeWidth": 0.8, "titleFontSize": 8, "titleFontWeight": "normal", "titleColor": "#1a1a1a", "titleFont": "Liberation Sans", "labelFont": "Liberation Sans", "labelFontSize": 6.5, "labelColor": "#333333", "rowPadding": 4, "titlePadding": 5, "labelOffset": 4}
  }
}
